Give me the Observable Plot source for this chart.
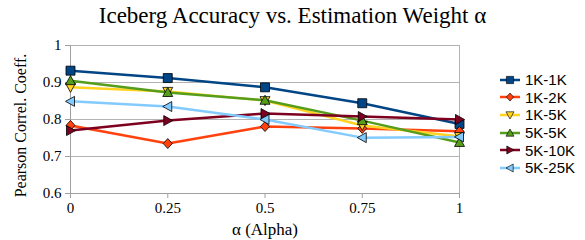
<!DOCTYPE html>
<html><head><meta charset="utf-8">
<script src="https://cdn.jsdelivr.net/npm/d3@7"></script>
<script src="https://cdn.jsdelivr.net/npm/@observablehq/plot@0.6"></script>
<style>
body{margin:0;background:#fff;width:585px;height:240px;overflow:hidden;position:relative}
#title{position:absolute;left:0;top:3px;width:585px;text-align:center;font:23px "Liberation Serif",serif;color:#000;line-height:26px}
#chart{position:absolute;left:0;top:32px}
#legend{position:absolute;left:499px;top:71px;font:15px "Liberation Sans",sans-serif;color:#000}
.row{display:flex;align-items:center;height:17.6px}
.row svg{margin-right:4px}
</style></head><body>
<div id="title">Iceberg Accuracy vs. Estimation Weight α</div>
<div id="chart"></div><div id="legend"></div>
<script>
const alphas = [0, 0.25, 0.5, 0.75, 1];
const seriesNames = ["1K-1K", "1K-2K", "1K-5K", "5K-5K", "5K-10K", "5K-25K"];
const v1K1K  = [0.932, 0.912, 0.887, 0.844, 0.788];
const v1K2K  = [0.784, 0.735, 0.781, 0.776, 0.768];
const v1K5K  = [0.887, 0.876, 0.851, 0.784, 0.754];
const v5K5K  = [0.905, 0.873, 0.852, 0.797, 0.738];
const v5K10K = [0.770, 0.797, 0.816, 0.808, 0.800];
const v5K25K = [0.849, 0.835, 0.800, 0.751, 0.753];
const yTicks = [0.6, 0.7, 0.8, 0.9, 1];
const xTicks = [0, 0.25, 0.5, 0.75, 1];
const colors = ["#004586", "#ff420e", "#ffd320", "#579d1c", "#7e0021", "#83caff"];

const allValues = [v1K1K, v1K2K, v1K5K, v5K5K, v5K10K, v5K25K];

function poly(pts){
  return {draw(ctx){ ctx.moveTo(pts[0][0], pts[0][1]); for (let i=1;i<pts.length;i++) ctx.lineTo(pts[i][0], pts[i][1]); ctx.closePath(); }};
}
const symbols = [
  poly([[-4.5,-4.5],[4.5,-4.5],[4.5,4.5],[-4.5,4.5]]),
  poly([[0,-5],[4.5,0],[0,5],[-4.5,0]]),
  poly([[0,5],[5,-4],[-5,-4]]),
  poly([[0,-5],[5,4],[-5,4]]),
  poly([[5,0],[-4,-5],[-4,5]]),
  poly([[-5,0],[4,-5],[4,5]])
];

const marks = [
  Plot.gridY(yTicks, {stroke: "#b3b3b3", strokeOpacity: 1}),
  Plot.frame({stroke: "#b3b3b3"}),
  Plot.ruleX([0], {stroke: "#a0a0a0"}),
  Plot.ruleY([0.6], {stroke: "#a0a0a0"}),
  Plot.axisY({ticks: yTicks, tickFormat: d => String(d), tickSize: 5, tickPadding: 4, stroke: "#a0a0a0", label: null}),
  Plot.axisX({ticks: xTicks, tickFormat: d => String(d), tickSize: 5, tickPadding: 4, stroke: "#a0a0a0", label: null})
];
seriesNames.forEach((name, i) => {
  const rows = alphas.map((a, j) => ({series: name, alpha: a, value: allValues[i][j]}));
  marks.push(Plot.line(rows, {x: "alpha", y: "value", stroke: colors[i], strokeWidth: 2.5}));
});
seriesNames.forEach((name, i) => {
  const rows = alphas.map((a, j) => ({series: name, alpha: a, value: allValues[i][j]}));
  marks.push(Plot.dot(rows, {x: "alpha", y: "value", symbol: symbols[i], r: 5, fill: colors[i], stroke: "#000", strokeWidth: 0.8}));
});
marks.push(Plot.text(["α (Alpha)"], {frameAnchor: "bottom", dy: 41, fontSize: 17, fill: "#000"}));
marks.push(Plot.text(["Pearson Correl. Coeff."], {frameAnchor: "left", textAnchor: "middle", dx: -50, dy: 6, rotate: -90, fontSize: 16, fill: "#000"}));

const chart = Plot.plot({
  width: 470, height: 208,
  marginLeft: 70, marginRight: 11, marginTop: 13, marginBottom: 47,
  x: {domain: [0, 1]},
  y: {domain: [0.6, 1]},
  style: {fontFamily: "Liberation Serif, serif", fontSize: "15px", color: "#000", background: "#fff", overflow: "visible"},
  marks
});
document.getElementById("chart").appendChild(chart);

const legend = d3.select("#legend");
seriesNames.forEach((name, i) => {
  const row = legend.append("div").attr("class", "row");
  const svg = row.append("svg").attr("width", 22).attr("height", 14);
  svg.append("line").attr("x1", 1).attr("x2", 21).attr("y1", 7).attr("y2", 7).attr("stroke", colors[i]).attr("stroke-width", 2.5);
  const p = d3.path();
  symbols[i].draw(p);
  svg.append("path").attr("d", p.toString()).attr("transform", "translate(11,7) scale(0.8)").attr("fill", colors[i]).attr("stroke", "#000").attr("stroke-width", 0.8);
  row.append("span").text(name);
});
</script>
</body></html>
